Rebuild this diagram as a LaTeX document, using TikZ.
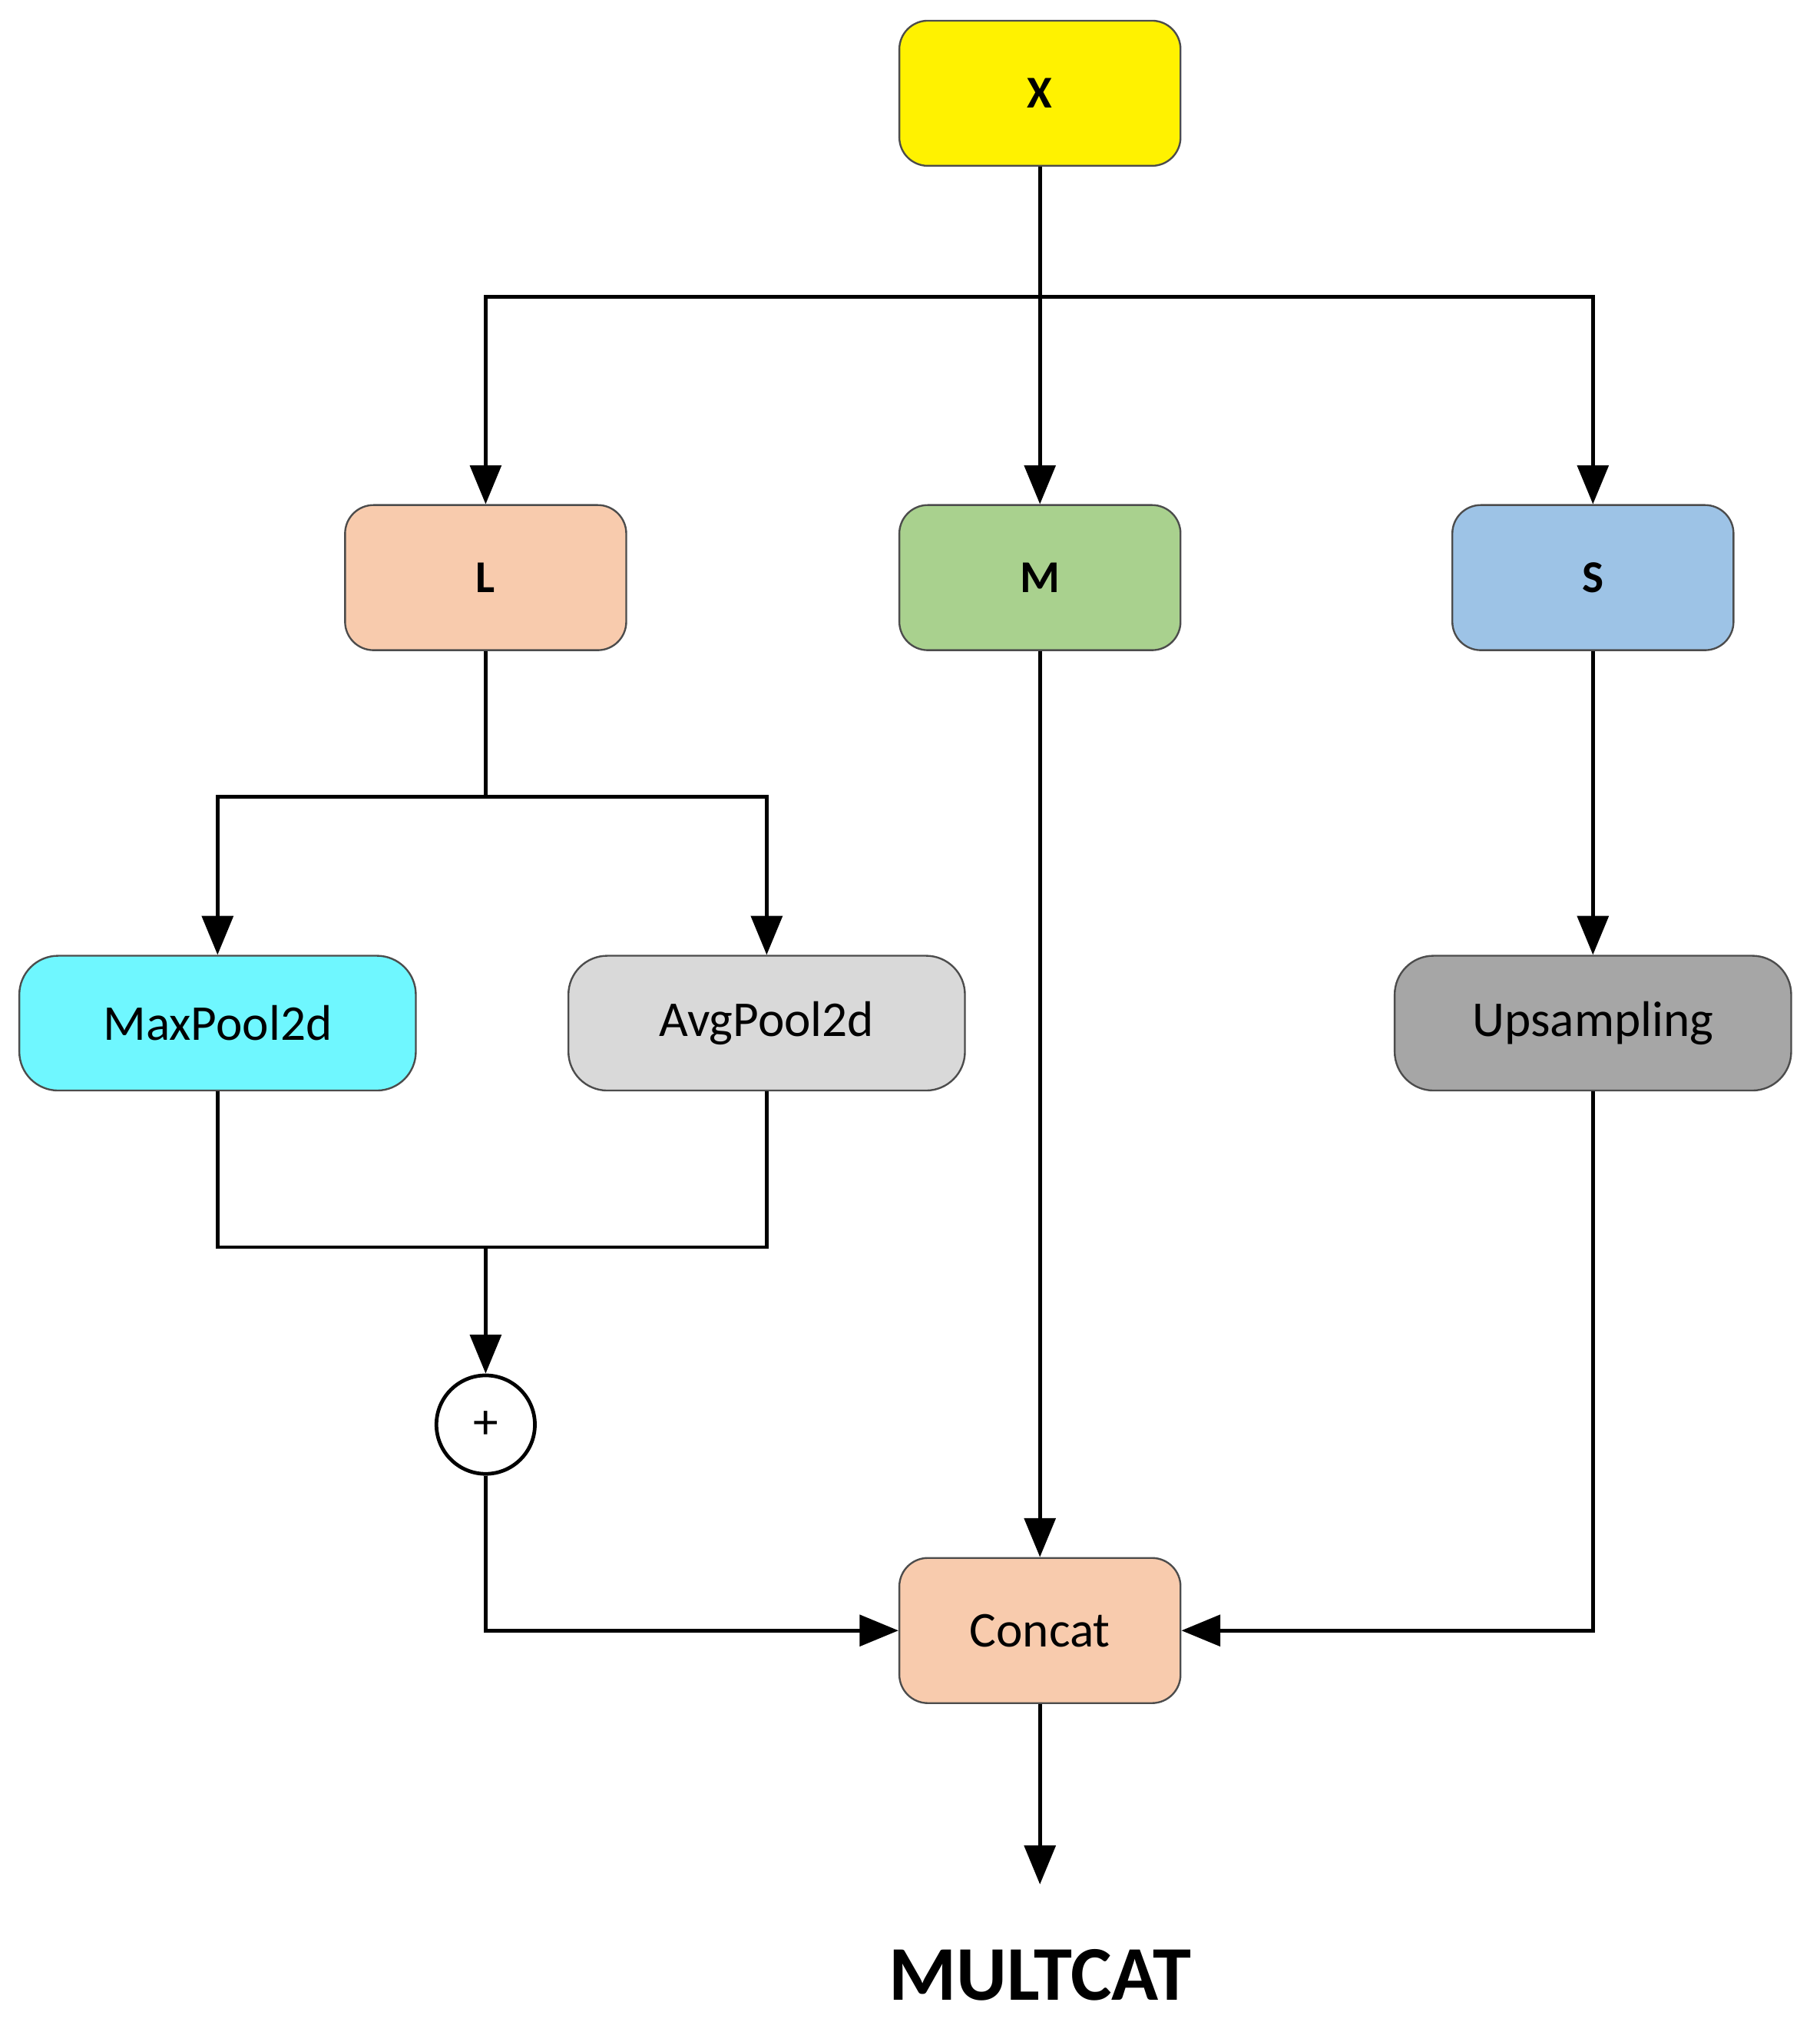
\documentclass[tikz,border=0pt]{standalone}
\usepackage{fontspec}
\setmainfont{Carlito}
\usetikzlibrary{positioning,arrows.meta}
\definecolor{peach}{HTML}{F8CBAD}
\definecolor{leaf}{HTML}{A9D18E}
\definecolor{sky}{HTML}{9DC3E6}
\definecolor{aqua}{HTML}{6FF7FF}
\begin{document}
\begin{tikzpicture}[x=0.01cm, y=-0.01cm, >={Triangle[length=3mm,width=2.4mm]},
    block/.style={draw=black!70, rounded corners=2.2mm, minimum width=2.17cm, minimum height=1.12cm, font=\bfseries\fontsize{10}{12}\selectfont},
    pool/.style={draw=black!70, rounded corners=3mm, minimum width=3.06cm, minimum height=1.04cm, font=\fontsize{11}{13}\selectfont},
    line/.style={thick}]
    \useasboundingbox (0,0) rectangle (1405,1569);
    % Blocks
    \node[block, fill=yellow] (x) at (803,72) {X};
    \node[block, fill=peach] (l) at (375,446) {L};
    \node[block, fill=leaf] (m) at (803,446) {M};
    \node[block, fill=sky] (s) at (1230,446) {S};
    \node[pool, fill=aqua] (maxp) at (168,790) {MaxPool2d};
    \node[pool, fill=black!15] (avgp) at (592,790) {AvgPool2d};
    \node[pool, fill=black!35] (up) at (1230,790) {Upsampling};
    \node[draw, thick, circle, minimum size=0.76cm, inner sep=0pt, font=\fontsize{11}{13}\selectfont] (plus) at (375,1100) {+};
    \node[block, fill=peach, font=\fontsize{11}{13}\selectfont] (concat) at (803,1259) {Concat};
    \coordinate (out) at (803,1455);
    \node[font=\bfseries\fontsize{17}{20}\selectfont] (title) at (803,1525) {MULTCAT};
    % Arrows
    \draw[line,->] (x) -- (m);
    \draw[line,->] (x.south) |- (375,229) -- (l);
    \draw[line,->] (x.south) |- (1230,229) -- (s);
    \draw[line,->] (l.south) |- (168,615) -- (maxp);
    \draw[line,->] (l.south) |- (592,615) -- (avgp);
    \draw[line] (maxp.south) |- (375,963);
    \draw[line] (avgp.south) |- (375,963);
    \draw[line,->] (375,963) -- (plus);
    \draw[line,->] (s) -- (up);
    \draw[line,->] (m) -- (concat);
    \draw[line,->] (plus) |- (concat);
    \draw[line,->] (up) |- (concat);
    \draw[line,->] (concat) -- (out);
\end{tikzpicture}
\end{document}
